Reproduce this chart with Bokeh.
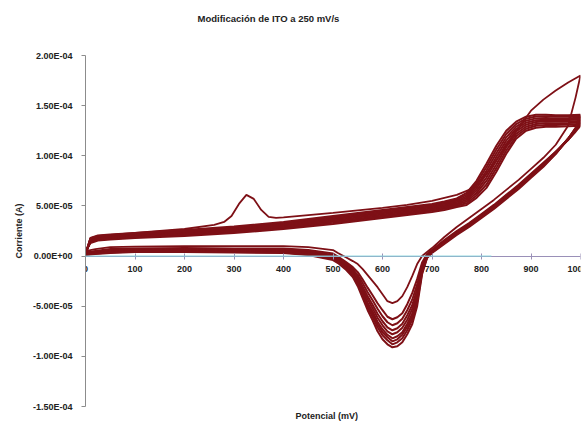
from bokeh.plotting import figure
from bokeh.models import Range1d, FixedTicker, CustomJSTickFormatter, Title
from bokeh.embed import file_html
from bokeh.resources import INLINE

# ---------------- data (potential in mV, current in microamperes) ----------------
UA = 1e-6

X_TICKS = [0, 100, 200, 300, 400, 500, 600, 700, 800, 900, 1000]
Y_TICKS = [-1.5e-4, -1.0e-4, -5.0e-5, 0.0, 5.0e-5, 1.0e-4, 1.5e-4, 2.0e-4]
Y_TICK_LABELS = ["-1.50E-04", "-1.00E-04", "-5.00E-05", "0.00E+00",
                 "5.00E-05", "1.00E-04", "1.50E-04", "2.00E-04"]

# first cycle (with the oxidation peak near 330 mV)
C1_FWD_E = [0, 10, 25, 50, 100, 200, 260, 280, 295, 310, 325, 340, 355, 370, 385, 400,
            500, 600, 650, 700, 750, 775, 800, 825, 850, 875, 900, 925, 950, 975, 1000]
C1_FWD_I = [3, 18, 20, 21, 23, 27, 31, 34, 40, 52, 61, 57, 46, 39, 38, 38.5,
            43, 48, 51, 55, 61, 66, 76, 92, 110, 128, 145, 156, 165, 173, 180]

# common potential grids for the following cycles
FWD_E = [0, 10, 25, 50, 100, 200, 300, 400, 500, 600, 650, 700, 725, 750, 770, 790,
         810, 830, 850, 870, 890, 910, 930, 950, 975, 1000]
REV_E = [1000, 990, 975, 950, 925, 900, 875, 850, 825, 800, 775, 750, 725, 700, 690, 680,
         670, 660, 650, 640, 630, 620, 610, 600, 590, 580, 570, 560, 550, 540, 525, 510,
         500, 450, 400, 300, 200, 100, 50, 20, 0]

C1_REV_I = [180, 158, 130, 111, 98, 87, 76, 66, 56, 47, 38, 29, 19, 8, 4, 0,
            -8, -20, -31, -40, -45, -47, -45, -38, -31, -25, -19, -13, -8, -5, -1, 3,
            6, 9, 10, 10, 10, 9.5, 9, 7, 5]

C2_FWD_I = [5, 13, 15.5, 16.5, 18, 20, 23, 27, 32, 38, 41, 44, 46, 49, 51, 58,
            68, 84, 102, 117, 125, 128, 129, 129, 129.5, 130]
C3_FWD_I = [3.5, 13.7, 16.2, 17.2, 18.7, 20.9, 23.9, 28, 33.1, 39.1, 42.1, 45.1, 47.2, 50.2, 52.7, 60.4,
            71.4, 87.7, 105.3, 119.4, 127, 129.9, 130.7, 130.6, 131.1, 131.6]
C4_FWD_I = [3, 14.4, 16.9, 17.9, 19.4, 21.7, 24.9, 29, 34.3, 40.3, 43.3, 46.3, 48.4, 51.4, 54.4, 62.9,
            74.9, 91.4, 108.6, 121.9, 129, 131.7, 132.4, 132.3, 132.6, 133.1]
C5_FWD_I = [2.5, 15.1, 17.6, 18.6, 20.1, 22.6, 25.8, 30, 35.4, 41.4, 44.4, 47.4, 49.6, 52.6, 56.1, 65.3,
            78.3, 95.1, 111.9, 124.3, 131, 133.6, 134.1, 133.9, 134.2, 134.7]
C6_FWD_I = [2, 15.9, 18.4, 19.4, 20.9, 23.4, 26.7, 31, 36.6, 42.6, 45.6, 48.6, 50.9, 53.9, 57.9, 67.7,
            81.7, 98.9, 115.1, 126.7, 133, 135.4, 135.9, 135.6, 135.8, 136.3]
C7_FWD_I = [2, 16.6, 19.1, 20.1, 21.6, 24.3, 27.6, 32, 37.7, 43.7, 46.7, 49.7, 52.1, 55.1, 59.6, 70.1,
            85.1, 102.6, 118.4, 129.1, 135, 137.3, 137.6, 137.2, 137.4, 137.9]
C8_FWD_I = [1.5, 17.3, 19.8, 20.8, 22.3, 25.1, 28.6, 33, 38.9, 44.9, 47.9, 50.9, 53.3, 56.3, 61.3, 72.6,
            88.6, 106.3, 121.7, 131.6, 137, 139.1, 139.3, 138.9, 138.9, 139.4]
C9_FWD_I = [1.5, 18, 20.5, 21.5, 23, 26, 29.5, 34, 40, 46, 49, 52, 54.5, 57.5, 63, 75,
            92, 110, 125, 134, 139, 141, 141, 140.5, 140.5, 141]

C2_REV_I = [130, 124, 116, 104, 93, 82, 71, 61, 51, 42, 33, 25, 16, 6, 2, -6.5,
            -23, -37, -48, -57, -61, -63, -60.5, -54, -47, -39, -31.5, -23.5, -16, -11, -5.5, -0.5,
            2.5, 6, 7.5, 7.5, 8, 7.5, 7, 5, 3.5]
C3_REV_I = [131.6, 125, 116, 104, 92, 81, 70, 60, 50, 41, 32, 24, 15, 5.5, 1, -9,
            -28.5, -43.5, -54, -62.5, -67, -69, -66, -60, -52.5, -44, -36, -27, -19, -13, -7, -2,
            1, 5, 6.5, 7, 7, 7, 6, 4.5, 3]
C4_REV_I = [133.1, 125, 116, 103, 92, 81, 70, 60, 50, 41, 32, 24, 15, 5, 0.5, -11,
            -33, -49, -59, -67.5, -72, -74, -71, -65, -57.5, -48.5, -40, -30.5, -21, -14.5, -8, -3,
            0, 4, 6, 6, 6.5, 6, 5.5, 4, 2.5]
C5_REV_I = [134.7, 126, 116.5, 103, 91, 80, 69, 59, 49, 40, 31, 23, 14, 4.5, 0, -12.5,
            -37, -53, -63.5, -71.5, -76, -78, -75, -69, -61.5, -52, -43, -33, -23, -16, -9.5, -4,
            -1, 3.5, 5, 5.5, 6, 5.5, 5, 3.5, 2]
C6_REV_I = [136.3, 126, 117, 103, 91, 80, 69, 59, 49, 40, 31, 23, 14, 4, -0.5, -14,
            -41, -57.5, -67.5, -76, -80, -82, -78.5, -73, -65.5, -55.5, -46.5, -35.5, -25, -17.5, -10.5, -5,
            -2, 3, 4.5, 5, 5.5, 5, 4.5, 3, 2]
C7_REV_I = [137.9, 127, 117, 103, 90, 79, 68, 58, 48, 39, 30, 22, 13, 4, -1, -15,
            -43.5, -60.5, -70.5, -78.5, -83, -85, -81, -76, -68, -58, -48.5, -37.5, -26.5, -18.5, -11, -5.5,
            -2.5, 2.5, 4, 4.5, 5, 5, 4, 3, 1.5]
C8_REV_I = [139.4, 127, 117, 102, 90, 79, 68, 58, 48, 39, 30, 22, 13, 3.5, -1.5, -16.5,
            -46, -63.5, -74, -82, -86, -88, -84, -79, -71, -60.5, -51, -39.5, -28, -19.5, -12, -6,
            -3, 1.5, 3.5, 4, 4.5, 4.5, 3.5, 2.5, 1.5]
C9_REV_I = [141, 128, 117, 102, 89, 78, 67, 57, 47, 38, 29, 21, 12, 3, -2, -18,
            -50, -68, -78, -86, -90, -91, -88, -83, -75, -64, -54, -42, -30, -21, -13, -7,
            -4, 1, 3, 3.5, 4, 4, 3, 2, 1]

BAND_FWD = [C2_FWD_I, C3_FWD_I, C4_FWD_I, C5_FWD_I, C6_FWD_I, C7_FWD_I, C8_FWD_I, C9_FWD_I]
BAND_REV = [C2_REV_I, C3_REV_I, C4_REV_I, C5_REV_I, C6_REV_I, C7_REV_I, C8_REV_I, C9_REV_I]

ZERO_E = [0, 820]
ZERO_I = [0, 0]

# ---------------- figure ----------------
FONT = "Liberation Sans"
LINE_COLOR = "#7e1016"

p = figure(width=587, height=431,
           x_range=Range1d(0, 1000), y_range=Range1d(-1.5e-4, 2.0e-4),
           output_backend="svg", toolbar_location=None,
           min_border_left=85, min_border_right=7, min_border_top=55, min_border_bottom=25)

p.background_fill_color = "white"
p.border_fill_color = "white"
p.outline_line_color = None
p.grid.visible = False

# chart title (outermost in the top panel)
p.title.text = "Modificación de ITO a 250 mV/s"
p.title.align = "left"
p.title.offset = 112
p.title.standoff = 10
p.title.text_font = FONT
p.title.text_font_size = "9.5px"
p.title.text_font_style = "bold"
p.title.text_color = "#222222"

# blank spacer between the frame and the chart title
p.add_layout(Title(text=" ", standoff=14, text_font=FONT, text_font_size="9.5px"), "above")

p.add_layout(Title(text="Potencial (mV)", align="left", offset=210, standoff=5,
                   text_font=FONT, text_font_size="9px", text_font_style="bold",
                   text_color="#222222"), "below")

# cycles
x1 = C1_FWD_E + REV_E
y1 = [v * UA for v in C1_FWD_I + C1_REV_I]
p.line(x1, y1, line_color=LINE_COLOR, line_width=1.8)
for fwd, rev in zip(BAND_FWD, BAND_REV):
    xs = FWD_E + REV_E
    ys = [v * UA for v in fwd + rev]
    p.line(xs, ys, line_color=LINE_COLOR, line_width=2.0)

# zero baseline (drawn over the axis line)
p.line(ZERO_E, [i * UA for i in ZERO_I], line_color="#86d3db", line_width=1, level="overlay")

# x axis at y = 0
xa = p.xaxis[0]
xa.fixed_location = 0
xa.ticker = FixedTicker(ticks=X_TICKS)
xa.axis_line_color = "#9a90b8"
xa.major_tick_line_color = "#9a90b8"
xa.major_tick_in = 3
xa.major_tick_out = 3
xa.minor_tick_line_color = None
xa.major_label_standoff = 7
xa.major_label_text_font = FONT
xa.major_label_text_font_size = "9px"
xa.major_label_text_font_style = "bold"
xa.major_label_text_color = "#222222"

ya = p.yaxis[0]
ya.ticker = FixedTicker(ticks=Y_TICKS)
ya.formatter = CustomJSTickFormatter(args=dict(tvals=Y_TICKS, tlabels=Y_TICK_LABELS), code="""
    let best = 0, d = Infinity;
    for (let i = 0; i < tvals.length; i++) {
        const dd = Math.abs(tvals[i] - tick);
        if (dd < d) { d = dd; best = i; }
    }
    return tlabels[best];
""")
ya.axis_line_color = "#8c8c8c"
ya.major_tick_line_color = "#8c8c8c"
ya.major_tick_in = 0
ya.major_tick_out = 4
ya.minor_tick_line_color = None
ya.major_label_standoff = 9
ya.major_label_text_font = FONT
ya.major_label_text_font_size = "9px"
ya.major_label_text_font_style = "bold"
ya.major_label_text_color = "#222222"
ya.axis_label = "Corriente (A)"
ya.axis_label_text_font = FONT
ya.axis_label_text_font_size = "9px"
ya.axis_label_text_font_style = "bold"
ya.axis_label_text_color = "#222222"
ya.axis_label_standoff = 6

open("out.html", "w").write(file_html(p, INLINE))
